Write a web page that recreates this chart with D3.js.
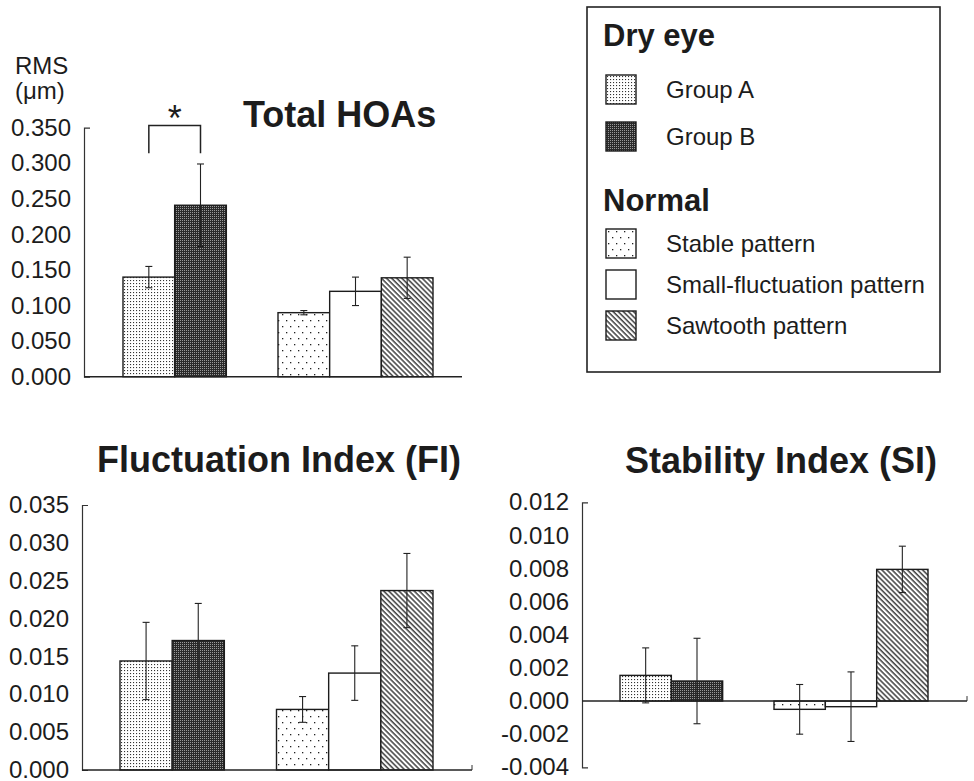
<!DOCTYPE html>
<html>
<head>
<meta charset="utf-8">
<script src="https://cdn.jsdelivr.net/npm/d3@7"></script>
<style>
body { margin: 0; background: #fff; }
svg { display: block; font-family: "Liberation Sans", Arial, Helvetica, sans-serif; }
</style>
</head>
<body>
<svg id="chart" width="974" height="781"></svg>
<script>
// groups / series
var series = ["Group A", "Group B", "Stable pattern", "Small-fluctuation pattern", "Sawtooth pattern"];
var slots = ["Group A", "Group B", "gap", "Stable pattern", "Small-fluctuation pattern", "Sawtooth pattern"];
var fills = ["url(#patA)", "url(#patB)", "url(#patStable)", "#fff", "url(#patSaw)"];

// Total HOAs, RMS (um)
var hoaMean = [0.140, 0.241, 0.090, 0.120, 0.139];
var hoaErr  = [0.015, 0.058, 0.003, 0.020, 0.029];
var hoaTicks = [0, 0.05, 0.10, 0.15, 0.20, 0.25, 0.30, 0.35];

// Fluctuation Index (FI)
var fiMean = [0.0144, 0.0171, 0.0080, 0.0128, 0.0237];
var fiErr  = [0.0051, 0.0049, 0.0017, 0.0036, 0.0049];
var fiTicks = [0, 0.005, 0.010, 0.015, 0.020, 0.025, 0.030, 0.035];

// Stability Index (SI)
var siMean = [0.00155, 0.00121, -0.00050, -0.00034, 0.00795];
var siErr  = [0.00166, 0.00258, 0.00150, 0.00210, 0.00140];
var siTicks = [-0.004, -0.002, 0, 0.002, 0.004, 0.006, 0.008, 0.010, 0.012];

var svg = d3.select("#chart");
var ink = "#1c1c1c";

// fill patterns
var defs = svg.append("defs");

var pA = defs.append("pattern").attr("id", "patA")
    .attr("patternUnits", "userSpaceOnUse").attr("width", 3).attr("height", 3);
pA.append("rect").attr("width", 3).attr("height", 3).attr("fill", "#fff");
pA.append("rect").attr("x", 1).attr("y", 1).attr("width", 1.1).attr("height", 1.1).attr("fill", "#333");

var pB = defs.append("pattern").attr("id", "patB")
    .attr("patternUnits", "userSpaceOnUse").attr("width", 2).attr("height", 2);
pB.append("rect").attr("width", 2).attr("height", 2).attr("fill", "#2a2a2a");
pB.append("rect").attr("width", 1).attr("height", 1).attr("fill", "#999");

var pS = defs.append("pattern").attr("id", "patStable")
    .attr("patternUnits", "userSpaceOnUse").attr("width", 8).attr("height", 12);
pS.append("rect").attr("width", 8).attr("height", 12).attr("fill", "#fff");
pS.append("rect").attr("x", 2).attr("y", 2).attr("width", 1.3).attr("height", 1.3).attr("fill", "#222");
pS.append("rect").attr("x", 6).attr("y", 8).attr("width", 1.3).attr("height", 1.3).attr("fill", "#222");

var pW = defs.append("pattern").attr("id", "patSaw")
    .attr("patternUnits", "userSpaceOnUse").attr("width", 3.6).attr("height", 3.6)
    .attr("patternTransform", "rotate(-45)");
pW.append("rect").attr("width", 3.6).attr("height", 3.6).attr("fill", "#fff");
pW.append("line").attr("x1", 1).attr("x2", 1).attr("y1", 0).attr("y2", 3.6)
    .attr("stroke", "#222").attr("stroke-width", 1.3);

var fmt = function(d) { return d3.format(".3f")(d).replace("\u2212", "-"); };

var panels = [
  {title: "Total HOAs", mean: hoaMean, err: hoaErr, ticks: hoaTicks, domain: [0, 0.35],
   axisX: [84, 462], barX: [123, 433], yRange: [376.7, 127.7], titleX: 243, titleY: 127, endTick: false},
  {title: "Fluctuation Index (FI)", mean: fiMean, err: fiErr, ticks: fiTicks, domain: [0, 0.035],
   axisX: [82, 472], barX: [120, 433], yRange: [770, 505], titleX: 97, titleY: 472, endTick: true},
  {title: "Stability Index (SI)", mean: siMean, err: siErr, ticks: siTicks, domain: [-0.004, 0.012],
   axisX: [582, 967], barX: [620, 928], yRange: [767.3, 502.3], titleX: 625, titleY: 473, endTick: true}
];

panels.forEach(function(p) {
  var y = d3.scaleLinear().domain(p.domain).range(p.yRange);
  var x = d3.scaleBand().domain(slots).range(p.barX).padding(0);
  var g = svg.append("g");

  // y axis
  var ax = g.append("g")
      .attr("transform", "translate(" + p.axisX[0] + ",0)")
      .call(d3.axisLeft(y).tickValues(p.ticks).tickFormat(fmt)
            .tickSize(0).tickSizeOuter(-6).tickPadding(13));
  ax.select(".domain").attr("stroke", "#333").attr("stroke-width", 1.2);
  ax.selectAll("text").attr("font-size", 24).attr("fill", ink)
      .attr("font-family", "'Liberation Sans', Arial, sans-serif");

  var rows = series.map(function(s, i) { return {name: s, v: p.mean[i], e: p.err[i], fill: fills[i]}; });

  // bars
  g.selectAll("rect.bar").data(rows).enter().append("rect")
      .attr("class", "bar")
      .attr("x", function(d) { return x(d.name); })
      .attr("width", x.bandwidth())
      .attr("y", function(d) { return y(Math.max(0, d.v)); })
      .attr("height", function(d) { return Math.abs(y(d.v) - y(0)); })
      .attr("fill", function(d) { return d.fill; })
      .attr("stroke", ink).attr("stroke-width", 1.4);

  // x axis at zero
  g.append("line")
      .attr("x1", p.axisX[0]).attr("x2", p.axisX[1])
      .attr("y1", y(0)).attr("y2", y(0))
      .attr("stroke", "#222").attr("stroke-width", 1.4);
  if (p.endTick) {
    g.append("line")
        .attr("x1", p.axisX[1]).attr("x2", p.axisX[1])
        .attr("y1", y(0)).attr("y2", y(0) - 5)
        .attr("stroke", "#333").attr("stroke-width", 1);
  }

  // error bars
  var eb = g.selectAll("g.err").data(rows).enter().append("g").attr("class", "err")
      .attr("stroke", "#222").attr("stroke-width", 1.1);
  eb.append("line")
      .attr("x1", function(d) { return x(d.name) + x.bandwidth() / 2; })
      .attr("x2", function(d) { return x(d.name) + x.bandwidth() / 2; })
      .attr("y1", function(d) { return y(d.v + d.e); })
      .attr("y2", function(d) { return y(d.v - d.e); });
  [1, -1].forEach(function(sg) {
    eb.append("line")
        .attr("x1", function(d) { return x(d.name) + x.bandwidth() / 2 - 3.5; })
        .attr("x2", function(d) { return x(d.name) + x.bandwidth() / 2 + 3.5; })
        .attr("y1", function(d) { return y(d.v + sg * d.e); })
        .attr("y2", function(d) { return y(d.v + sg * d.e); });
  });

  // title
  g.append("text")
      .attr("x", p.titleX).attr("y", p.titleY)
      .attr("font-size", 36).attr("font-weight", "bold").attr("fill", ink)
      .text(p.title);

  // significance bracket for HOAs
  if (p.title === "Total HOAs") {
    var xa = x("Group A") + x.bandwidth() / 2, xb = x("Group B") + x.bandwidth() / 2;
    g.append("path")
        .attr("d", "M" + xa + "," + y(0.314) + "V" + y(0.353) + "H" + xb + "V" + y(0.314))
        .attr("fill", "none").attr("stroke", "#222").attr("stroke-width", 1.5);
    g.append("text")
        .attr("x", (xa + xb) / 2).attr("y", y(0.353) + 5)
        .attr("text-anchor", "middle").attr("font-size", 36).attr("fill", ink)
        .text("*");
  }
});

// unit label
svg.append("text").attr("x", 15).attr("y", 74).attr("font-size", 24).attr("fill", ink).text("RMS");
svg.append("text").attr("x", 15).attr("y", 99).attr("font-size", 24).attr("fill", ink).text("(\u03bcm)");

// legend
var lg = svg.append("g");
lg.append("rect").attr("x", 587).attr("y", 7).attr("width", 353).attr("height", 365)
    .attr("fill", "none").attr("stroke", "#222").attr("stroke-width", 1.6);
lg.append("text").attr("x", 603).attr("y", 46).attr("font-size", 31).attr("font-weight", "bold")
    .attr("fill", ink).text("Dry eye");
lg.append("text").attr("x", 603).attr("y", 211).attr("font-size", 31).attr("font-weight", "bold")
    .attr("fill", ink).text("Normal");

var legendY = [75, 122, 229, 270, 311];
var items = lg.selectAll("g.item").data(series).enter().append("g").attr("class", "item")
    .attr("transform", function(d, i) { return "translate(606," + legendY[i] + ")"; });
items.append("rect").attr("width", 30).attr("height", 29)
    .attr("fill", function(d, i) { return fills[i]; })
    .attr("stroke", ink).attr("stroke-width", 1.4);
items.append("text").attr("x", 60).attr("y", 14.5 + 8.5)
    .attr("font-size", 24).attr("fill", ink)
    .text(function(d) { return d; });
</script>
</body>
</html>
